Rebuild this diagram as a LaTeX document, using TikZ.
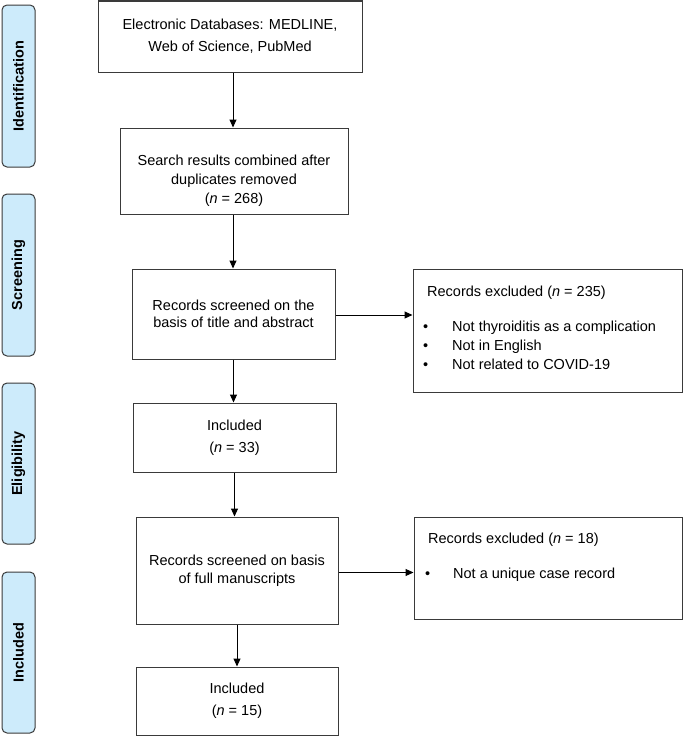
\documentclass[tikz,border=0pt]{standalone}
\usepackage{fontspec}
\setmainfont{Liberation Sans}
\usetikzlibrary{arrows.meta}
\definecolor{sidefill}{HTML}{CDEBFB}
\definecolor{edge}{HTML}{3A3A3A}
\tikzset{
  box/.style={draw=edge, line width=1pt, rectangle, inner sep=0pt, align=center},
  side/.style={draw=edge, line width=1pt, fill=sidefill, rounded corners=5pt, inner sep=0pt,
    minimum width=33pt, font=\fontsize{14.5}{17}\selectfont\bfseries},
  sidetxt/.style={rotate=90, font=\fontsize{14.5}{17}\selectfont\bfseries, inner sep=0pt},
  wide/.style={font=\fontsize{14.5}{22}\selectfont},
  mid/.style={font=\fontsize{14.5}{19}\selectfont},
  tight/.style={font=\fontsize{14.5}{17.5}\selectfont},
  lt/.style={anchor=base west, inner sep=0pt, font=\fontsize{14.5}{17}\selectfont},
  arr/.style={draw=black, line width=1pt, -{Triangle[length=8pt,width=7pt]}}
}
\begin{document}
\begin{tikzpicture}[x=1pt,y=-1pt]
\useasboundingbox (0,0) rectangle (683,736);
% side labels
\node[side, minimum height=162pt] (s1) at (18.5,86) {};
\node[sidetxt] (s1t) at (s1) {Identification};
\node[side, minimum height=162pt] (s2) at (18.5,275) {};
\node[sidetxt] (s2t) at (s2) {Screening};
\node[side, minimum height=161pt] (s3) at (18.5,463.5) {};
\node[sidetxt] (s3t) at (s3) {Eligibility};
\node[side, minimum height=161pt] (s4) at (18.5,652.5) {};
\node[sidetxt] (s4t) at (s4) {Included};
% main boxes
\node[box, wide, minimum width=264pt, minimum height=71pt] (b1) at (230,36.5)
  {Electronic Databases: MEDLINE,\\Web of Science, PubMed};
\node[box, minimum width=228pt, minimum height=86pt] (b2) at (234,171) {};
\node[mid, align=center, inner sep=0pt] (b2t) at (234,181)
  {Search results combined after\\duplicates removed\\(\textit{n} = 268)};
\node[box, tight, minimum width=203pt, minimum height=90pt] (b3) at (233.5,314)
  {Records screened on the\\basis of title and abstract};
\node[box, minimum width=269pt, minimum height=123pt] (b4) at (547.5,330.5) {};
\node[lt] (b4h) at (427,296) {Records excluded (\textit{n} = 235)};
\node[lt] (b4b1) at (423,331) {\textbullet};
\node[lt] (b4l1) at (452,331) {Not thyroiditis as a complication};
\node[lt] (b4b2) at (423,350) {\textbullet};
\node[lt] (b4l2) at (452,350) {Not in English};
\node[lt] (b4b3) at (423,369) {\textbullet};
\node[lt] (b4l3) at (452,369) {Not related to COVID-19};
\node[box, wide, minimum width=203pt, minimum height=69pt] (b5) at (234.5,437.5)
  {Included\\(\textit{n} = 33)};
\node[box, tight, minimum width=202pt, minimum height=107pt] (b6) at (237,570.5)
  {Records screened on basis\\of full manuscripts};
\node[box, minimum width=268pt, minimum height=102pt] (b7) at (548,568) {};
\node[lt] (b7h) at (428,543) {Records excluded (\textit{n} = 18)};
\node[lt] (b7b1) at (425,578) {\textbullet};
\node[lt] (b7l1) at (453,578) {Not a unique case record};
\node[box, wide, minimum width=202pt, minimum height=68pt] (b8) at (237,701)
  {Included\\(\textit{n} = 15)};
% connectors
\draw[arr] ([xshift=3pt]b1.south) -- ([xshift=3pt]b1.south |- b2.north);
\draw[arr] ([xshift=-1pt]b2.south) -- ([xshift=-1pt]b2.south |- b3.north);
\draw[arr] (b3.south) -- (b3.south |- b5.north);
\draw[arr] (b5.south) -- (b5.south |- b6.north);
\draw[arr] (b6.south) -- (b6.south |- b8.north);
\draw[arr] ([yshift=-1pt]b3.east) -- ([yshift=-1pt]b3.east -| b4.west);
\draw[arr] ([yshift=-2pt]b6.east) -- ([yshift=-2pt]b6.east -| b7.west);
\end{tikzpicture}
\end{document}
